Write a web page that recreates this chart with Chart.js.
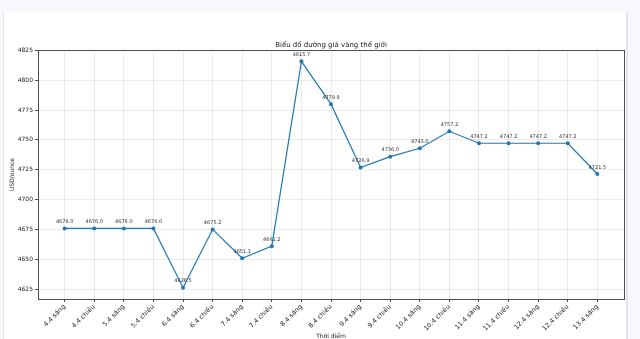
<!DOCTYPE html>
<html lang="vi">
<head>
<meta charset="UTF-8">
<title>Biểu đồ đường giá vàng thế giới</title>
<style>
    html, body { margin: 0; padding: 0; background: #f6f8fb; }
    canvas { display: block; }
</style>
<script src="https://cdn.jsdelivr.net/npm/chart.js"></script>
</head>
<body>
<canvas id="chart" width="640" height="339"></canvas>
<script>
    // thời điểm và giá vàng (USD/ounce)
    const labels = [
        '4.4 sáng', '4.4 chiều', '5.4 sáng', '5.4 chiều', '6.4 sáng', '6.4 chiều',
        '7.4 sáng', '7.4 chiều', '8.4 sáng', '8.4 chiều', '9.4 sáng', '9.4 chiều',
        '10.4 sáng', '10.4 chiều', '11.4 sáng', '11.4 chiều', '12.4 sáng', '12.4 chiều',
        '13.4 sáng'
    ];
    const prices = [
        4676.0, 4676.0, 4676.0, 4676.0, 4626.5, 4675.2,
        4651.1, 4661.2, 4815.7, 4779.9, 4726.9, 4736.0,
        4743.0, 4757.2, 4747.2, 4747.2, 4747.2, 4747.2,
        4721.5
    ];
    const yTicks = [4625, 4650, 4675, 4700, 4725, 4750, 4775, 4800, 4825];

    const FONT = '"DejaVu Sans", sans-serif';
    const lineColor = '#1f77b4';

    // nền khung và tiêu đề, nhãn trục vẽ tay
    const frame = {
        id: 'frame',
        beforeDraw(chart) {
            const c = chart.ctx;
            c.save();
            c.fillStyle = '#f6f8fb';
            c.fillRect(0, 0, 640, 339);
            c.fillStyle = '#ffffff';
            c.fillRect(4, 12, 622, 327);
            c.fillStyle = '#e4e6ea';
            c.fillRect(3, 12, 1, 327);
            c.fillRect(626, 12, 2, 327);
            c.restore();
        },
        afterDraw(chart) {
            const c = chart.ctx;
            const a = chart.chartArea;
            c.save();
            c.strokeStyle = '#4d4d4d';
            c.lineWidth = 1;
            c.strokeRect(Math.round(a.left) + 0.5, Math.round(a.top) + 0.5,
                Math.round(a.right - a.left), Math.round(a.bottom - a.top));
            c.fillStyle = '#222';
            c.textAlign = 'center';
            c.textBaseline = 'middle';
            c.font = '7px ' + FONT;
            c.fillText('Biểu đồ đường giá vàng thế giới', (a.left + a.right) / 2, 45);
            c.font = '6px ' + FONT;
            c.fillText('Thời điểm', (a.left + a.right) / 2, 336);
            c.translate(12, (a.top + a.bottom) / 2);
            c.rotate(-Math.PI / 2);
            c.fillText('USD/ounce', 0, 0);
            c.restore();
        }
    };

    // ghi giá trên từng điểm
    const valueLabels = {
        id: 'valueLabels',
        afterDatasetsDraw(chart) {
            const c = chart.ctx;
            const meta = chart.getDatasetMeta(0);
            c.save();
            c.font = '5px ' + FONT;
            c.fillStyle = '#333';
            c.textAlign = 'center';
            c.textBaseline = 'middle';
            meta.data.forEach((p, i) => {
                c.fillText(prices[i].toFixed(1), p.x, p.y - 6.5);
            });
            c.restore();
        }
    };

    new Chart(document.getElementById('chart'), {
        type: 'line',
        data: {
            datasets: [{
                data: prices.map((v, i) => ({ x: i, y: v })),
                borderColor: lineColor,
                backgroundColor: lineColor,
                borderWidth: 1.2,
                pointRadius: 2,
                pointHoverRadius: 2,
                pointBorderWidth: 0,
                tension: 0
            }]
        },
        options: {
            responsive: false,
            animation: false,
            devicePixelRatio: 1,
            layout: { padding: { left: 0, top: 50, right: 16, bottom: 0 } },
            plugins: {
                legend: { display: false },
                tooltip: { enabled: false }
            },
            scales: {
                x: {
                    type: 'linear',
                    min: -0.9,
                    max: labels.length - 1 + 0.9,
                    afterBuildTicks(scale) {
                        scale.ticks = labels.map((_, i) => ({ value: i }));
                    },
                    afterFit(scale) { scale.height = 40; },
                    border: { display: false },
                    grid: {
                        color: 'rgba(0,0,0,0.08)',
                        tickColor: '#4d4d4d',
                        tickLength: 3
                    },
                    ticks: {
                        autoSkip: false,
                        maxRotation: 45,
                        minRotation: 45,
                        padding: 1,
                        color: '#222',
                        font: { family: FONT, size: 6.5 },
                        callback: (v) => labels[v]
                    }
                },
                y: {
                    min: 4617.04,
                    max: 4825.16,
                    afterBuildTicks(scale) {
                        scale.ticks = yTicks.map(v => ({ value: v }));
                    },
                    afterFit(scale) { scale.width = 38; },
                    border: { display: false },
                    grid: {
                        color: 'rgba(0,0,0,0.08)',
                        tickColor: '#4d4d4d',
                        tickLength: 3
                    },
                    ticks: {
                        padding: 2,
                        color: '#222',
                        font: { family: FONT, size: 6 },
                        callback: (v) => String(v)
                    }
                }
            }
        },
        plugins: [frame, valueLabels]
    });
</script>
</body>
</html>
